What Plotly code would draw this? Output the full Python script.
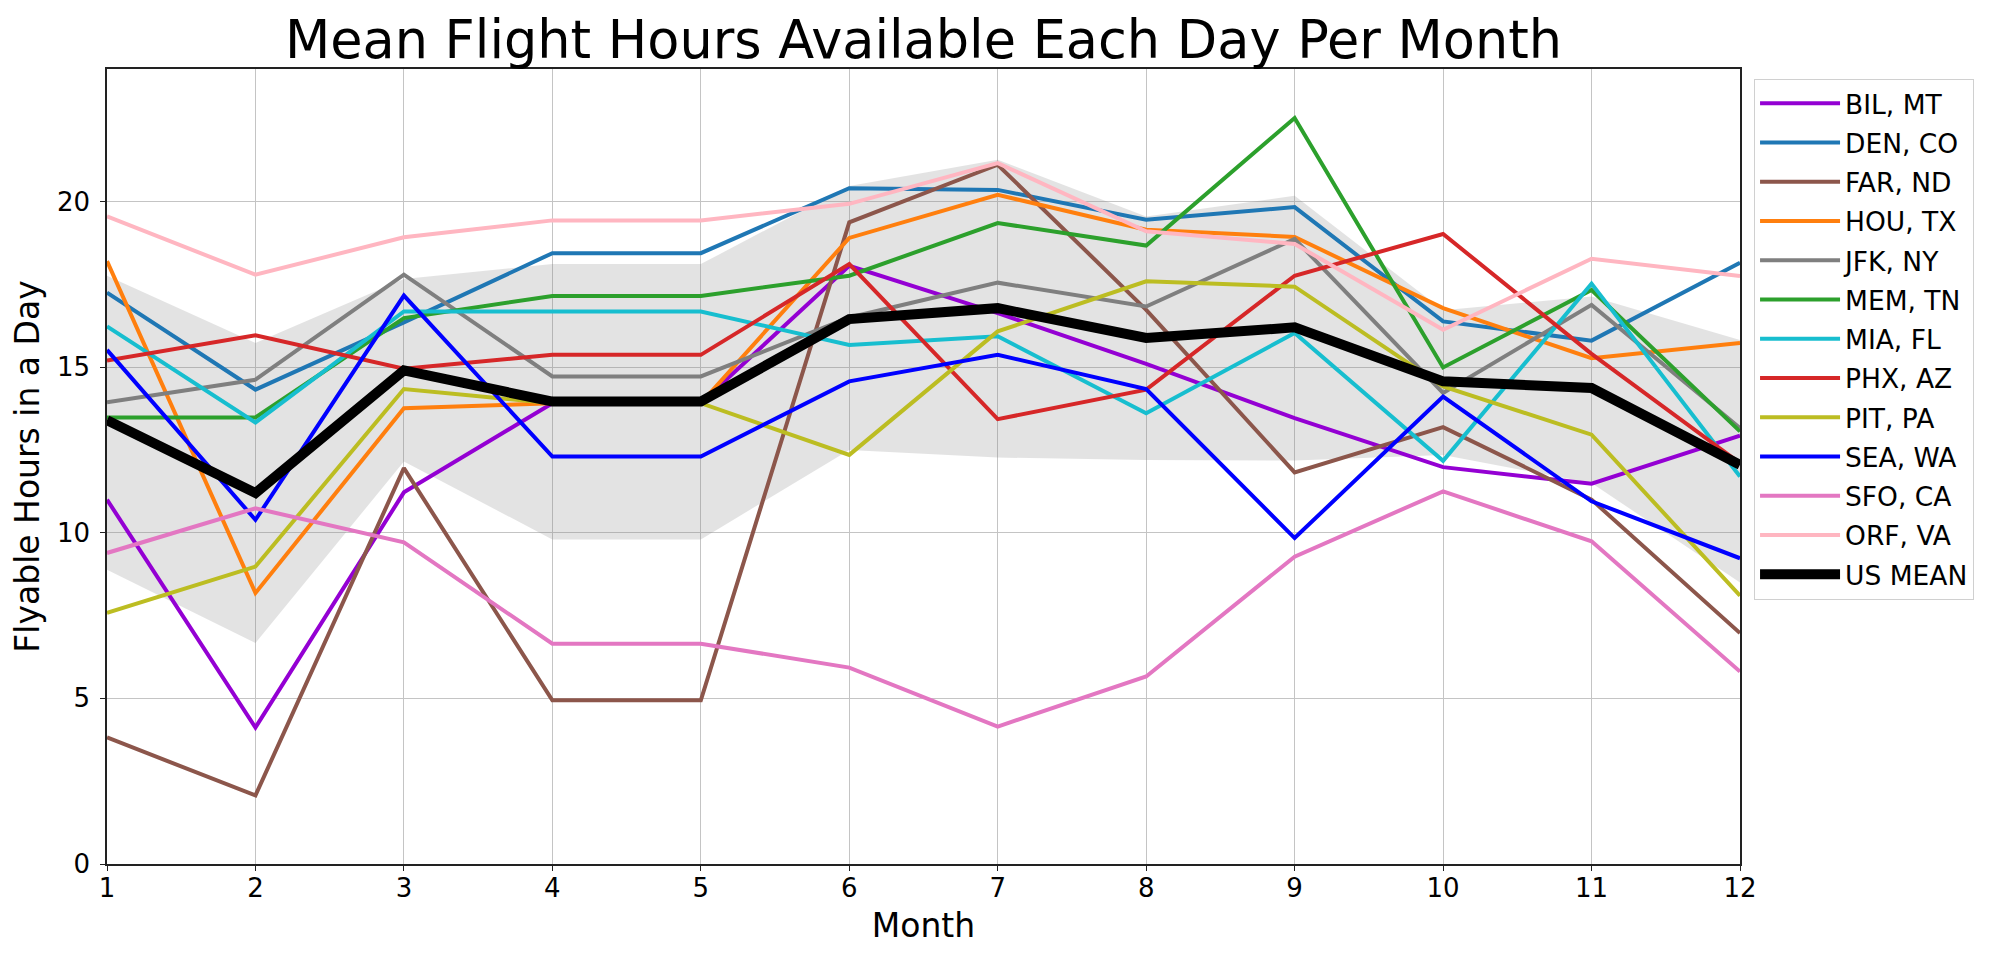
import plotly.graph_objects as go

months = [1, 2, 3, 4, 5, 6, 7, 8, 9, 10, 11, 12]

station_names = ["BIL, MT", "DEN, CO", "FAR, ND", "HOU, TX", "JFK, NY", "MEM, TN",
                 "MIA, FL", "PHX, AZ", "PIT, PA", "SEA, WA", "SFO, CA", "ORF, VA"]

bil = [11.0, 4.12, 11.22, 13.91, 13.91, 18.06, 16.63, 15.1, 13.46, 11.98, 11.48, 12.93]
den = [17.25, 14.32, 16.35, 18.44, 18.44, 20.4, 20.35, 19.45, 19.83, 16.38, 15.8, 18.15]
far = [3.82, 2.07, 11.95, 4.94, 4.94, 19.37, 21.11, 16.73, 11.82, 13.19, 11.0, 6.97]
hou = [18.2, 8.18, 13.76, 13.91, 13.91, 18.9, 20.2, 19.15, 18.93, 16.78, 15.27, 15.73]
jfk = [13.94, 14.62, 17.79, 14.72, 14.72, 16.5, 17.55, 16.83, 18.87, 14.22, 16.88, 13.16]
mem = [13.48, 13.48, 16.48, 17.15, 17.15, 17.76, 19.35, 18.67, 22.52, 14.99, 17.33, 13.06]
mia = [16.23, 13.33, 16.68, 16.68, 16.68, 15.67, 15.93, 13.61, 16.03, 12.17, 17.52, 11.7]
phx = [15.2, 15.96, 14.95, 15.37, 15.37, 18.11, 13.43, 14.32, 17.76, 19.02, 15.4, 12.1]
pit = [7.58, 8.98, 14.34, 13.91, 13.91, 12.35, 16.08, 17.59, 17.43, 14.42, 12.96, 8.1]
sea = [15.52, 10.39, 17.16, 12.3, 12.3, 14.57, 15.37, 14.34, 9.84, 14.11, 10.95, 9.23]
sfo = [9.39, 10.74, 9.71, 6.65, 6.65, 5.93, 4.15, 5.66, 9.28, 11.25, 9.74, 5.81]
orf = [19.55, 17.79, 18.92, 19.43, 19.43, 19.93, 21.16, 19.1, 18.72, 16.13, 18.27, 17.75]

us_mean = [13.4, 11.2, 14.9, 13.96, 13.96, 16.45, 16.78, 15.88, 16.2, 14.57, 14.37, 12.05]
band_upper = [17.76, 15.73, 17.66, 18.11, 18.11, 20.47, 21.26, 19.55, 20.17, 16.72, 17.13, 15.82]
band_lower = [8.88, 6.67, 12.15, 9.8, 9.8, 12.5, 12.27, 12.2, 12.18, 12.35, 11.5, 8.5]

station_values = [bil, den, far, hou, jfk, mem, mia, phx, pit, sea, sfo, orf]
station_colors = ["#9400d3", "#1f77b4", "#8c564b", "#ff7f0e", "#7f7f7f", "#2ca02c",
                  "#17becf", "#d62728", "#bcbd22", "#0000ff", "#e377c2", "#ffb6c1"]

FONT = "DejaVu Sans"

# the page body adds an 8px offset, so the figure is laid out 8px up/left
OFF = 8
L, R, T, B = 107 - OFF, 1990 - 1740 + OFF, 69 - OFF, 962 - 864 + OFF

fig = go.Figure()

# std band around the mean
fig.add_trace(go.Scatter(x=months, y=band_upper, mode="lines",
                         line=dict(width=0, color="rgba(0,0,0,0)"),
                         showlegend=False, hoverinfo="skip"))
fig.add_trace(go.Scatter(x=months, y=band_lower, mode="lines",
                         line=dict(width=0, color="rgba(0,0,0,0)"),
                         fill="tonexty", fillcolor="rgba(128,128,128,0.22)",
                         showlegend=False, hoverinfo="skip"))

for name, vals, col in zip(station_names, station_values, station_colors):
    fig.add_trace(go.Scatter(x=months, y=vals, mode="lines", name=name,
                             legendgroup=name,
                             line=dict(color=col, width=4)))

fig.add_trace(go.Scatter(x=months, y=us_mean, mode="lines", name="US MEAN",
                         legendgroup="US MEAN",
                         line=dict(color="black", width=10)))

fig.update_layout(
    width=1990, height=962,
    paper_bgcolor="white", plot_bgcolor="white",
    margin=dict(l=L, r=R, t=T, b=B),
    font=dict(family=FONT, color="black", size=26),
    title=dict(text="Mean Flight Hours Available Each Day Per Month",
               font=dict(family=FONT, size=52.5, color="black"),
               x=((107 + 1740) / 2 - OFF) / 1990, xanchor="center",
               y=1 - 32 / 962, yanchor="middle", yref="container"),
    legend=dict(x=1.0086, xanchor="left", y=0.988, yanchor="top",
                traceorder="grouped",
                bgcolor="white", bordercolor="#d0d0d0", borderwidth=1,
                font=dict(family=FONT, size=26.5, color="black"),
                tracegroupgap=1.8, itemwidth=80),
    showlegend=True,
)

fig.update_xaxes(range=[1, 12], tickmode="array", tickvals=months,
                 ticktext=[str(m) for m in months],
                 showgrid=True, gridcolor="#c4c4c4", gridwidth=1,
                 showline=True, linecolor="#222222", linewidth=1.5, mirror=True,
                 ticks="outside", ticklen=5, tickcolor="#222222", ticklabelstandoff=-5,
                 tickfont=dict(family=FONT, size=26),
                 title=dict(text="Month", font=dict(family=FONT, size=33), standoff=12),
                 zeroline=False)
fig.update_yaxes(range=[0, 24.0], tickmode="array", tickvals=[0, 5, 10, 15, 20],
                 showgrid=True, gridcolor="#c4c4c4", gridwidth=1,
                 showline=True, linecolor="#222222", linewidth=1.5, mirror=True,
                 ticks="outside", ticklen=5, tickcolor="#222222", ticklabelstandoff=5,
                 tickfont=dict(family=FONT, size=26),
                 title=dict(text="Flyable Hours in a Day", font=dict(family=FONT, size=33), standoff=11),
                 zeroline=False)

fig.write_html("out.html")
